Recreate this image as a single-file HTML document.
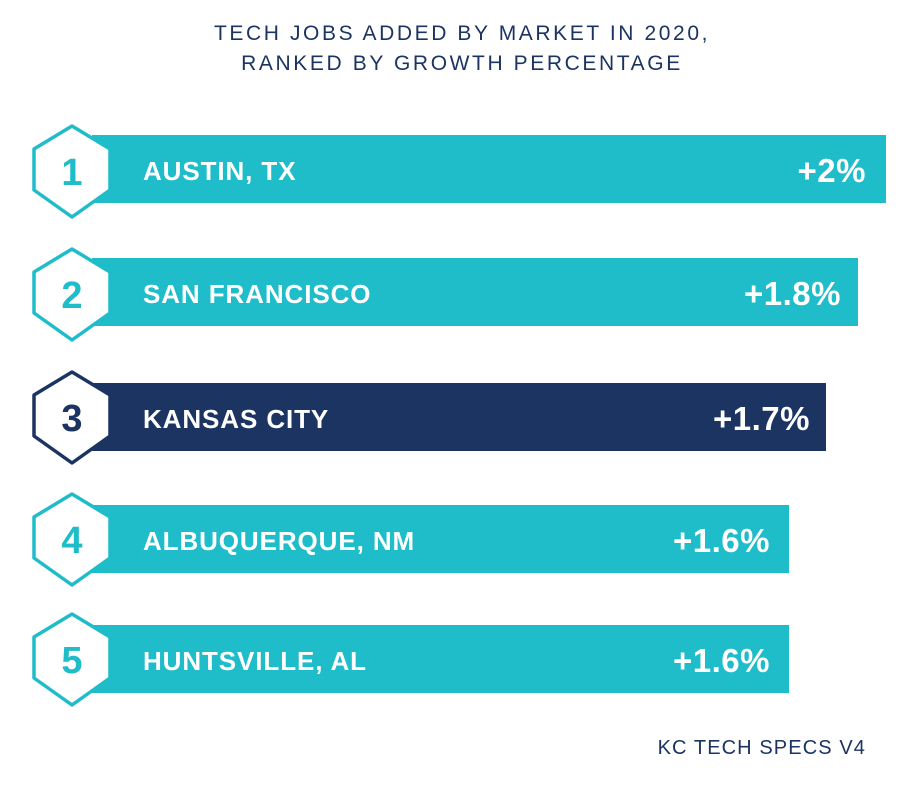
<!DOCTYPE html>
<html><head><style>
body{margin:0;width:900px;height:781px;background:#fff;font-family:"Liberation Sans",sans-serif;overflow:hidden}
</style></head><body>
<svg width="900" height="781" xmlns="http://www.w3.org/2000/svg">
<g font-family="Liberation Sans, sans-serif" fill="#1c3461" font-size="21" letter-spacing="2.6" text-anchor="middle">
<text x="462" y="40">TECH JOBS ADDED BY MARKET IN 2020,</text>
<text x="462" y="70">RANKED BY GROWTH PERCENTAGE</text>
</g>
<g font-family="Liberation Sans, sans-serif">
<g transform="translate(0,172)">
<rect x="92" y="-37" width="794" height="68" fill="#1fbcc9"/>
<polygon points="72,-46 110,-23 110,18 72,45 34,18 34,-23" fill="#fff" stroke="#1fbcc9" stroke-width="3.5" stroke-linejoin="round"/>
<text x="72" y="13" text-anchor="middle" font-size="38" font-weight="bold" fill="#1fbcc9">1</text>
<text x="143" y="8" font-size="26" font-weight="bold" letter-spacing="0.9" fill="#fff">AUSTIN, TX</text>
<text x="866" y="10" text-anchor="end" font-size="33" font-weight="bold" letter-spacing="0.5" fill="#fff">+2%</text>
</g>
<g transform="translate(0,295)">
<rect x="92" y="-37" width="766" height="68" fill="#1fbcc9"/>
<polygon points="72,-46 110,-23 110,18 72,45 34,18 34,-23" fill="#fff" stroke="#1fbcc9" stroke-width="3.5" stroke-linejoin="round"/>
<text x="72" y="13" text-anchor="middle" font-size="38" font-weight="bold" fill="#1fbcc9">2</text>
<text x="143" y="8" font-size="26" font-weight="bold" letter-spacing="0.9" fill="#fff">SAN FRANCISCO</text>
<text x="841" y="10" text-anchor="end" font-size="33" font-weight="bold" letter-spacing="0.5" fill="#fff">+1.8%</text>
</g>
<g transform="translate(0,418)">
<rect x="92" y="-35" width="734" height="68" fill="#1c3461"/>
<polygon points="72,-46 110,-23 110,18 72,45 34,18 34,-23" fill="#fff" stroke="#1c3461" stroke-width="3.5" stroke-linejoin="round"/>
<text x="72" y="13" text-anchor="middle" font-size="38" font-weight="bold" fill="#1c3461">3</text>
<text x="143" y="10" font-size="26" font-weight="bold" letter-spacing="0.9" fill="#fff">KANSAS CITY</text>
<text x="810" y="12" text-anchor="end" font-size="33" font-weight="bold" letter-spacing="0.5" fill="#fff">+1.7%</text>
</g>
<g transform="translate(0,540)">
<rect x="92" y="-35" width="697" height="68" fill="#1fbcc9"/>
<polygon points="72,-46 110,-23 110,18 72,45 34,18 34,-23" fill="#fff" stroke="#1fbcc9" stroke-width="3.5" stroke-linejoin="round"/>
<text x="72" y="13" text-anchor="middle" font-size="38" font-weight="bold" fill="#1fbcc9">4</text>
<text x="143" y="10" font-size="26" font-weight="bold" letter-spacing="0.9" fill="#fff">ALBUQUERQUE, NM</text>
<text x="770" y="12" text-anchor="end" font-size="33" font-weight="bold" letter-spacing="0.5" fill="#fff">+1.6%</text>
</g>
<g transform="translate(0,660)">
<rect x="92" y="-35" width="697" height="68" fill="#1fbcc9"/>
<polygon points="72,-46 110,-23 110,18 72,45 34,18 34,-23" fill="#fff" stroke="#1fbcc9" stroke-width="3.5" stroke-linejoin="round"/>
<text x="72" y="13" text-anchor="middle" font-size="38" font-weight="bold" fill="#1fbcc9">5</text>
<text x="143" y="10" font-size="26" font-weight="bold" letter-spacing="0.9" fill="#fff">HUNTSVILLE, AL</text>
<text x="770" y="12" text-anchor="end" font-size="33" font-weight="bold" letter-spacing="0.5" fill="#fff">+1.6%</text>
</g>
</g>
<text x="866" y="754" text-anchor="end" font-family="Liberation Sans, sans-serif" font-size="20" fill="#1c3461" letter-spacing="1.1">KC TECH SPECS V4</text>
</svg>
</body></html>
